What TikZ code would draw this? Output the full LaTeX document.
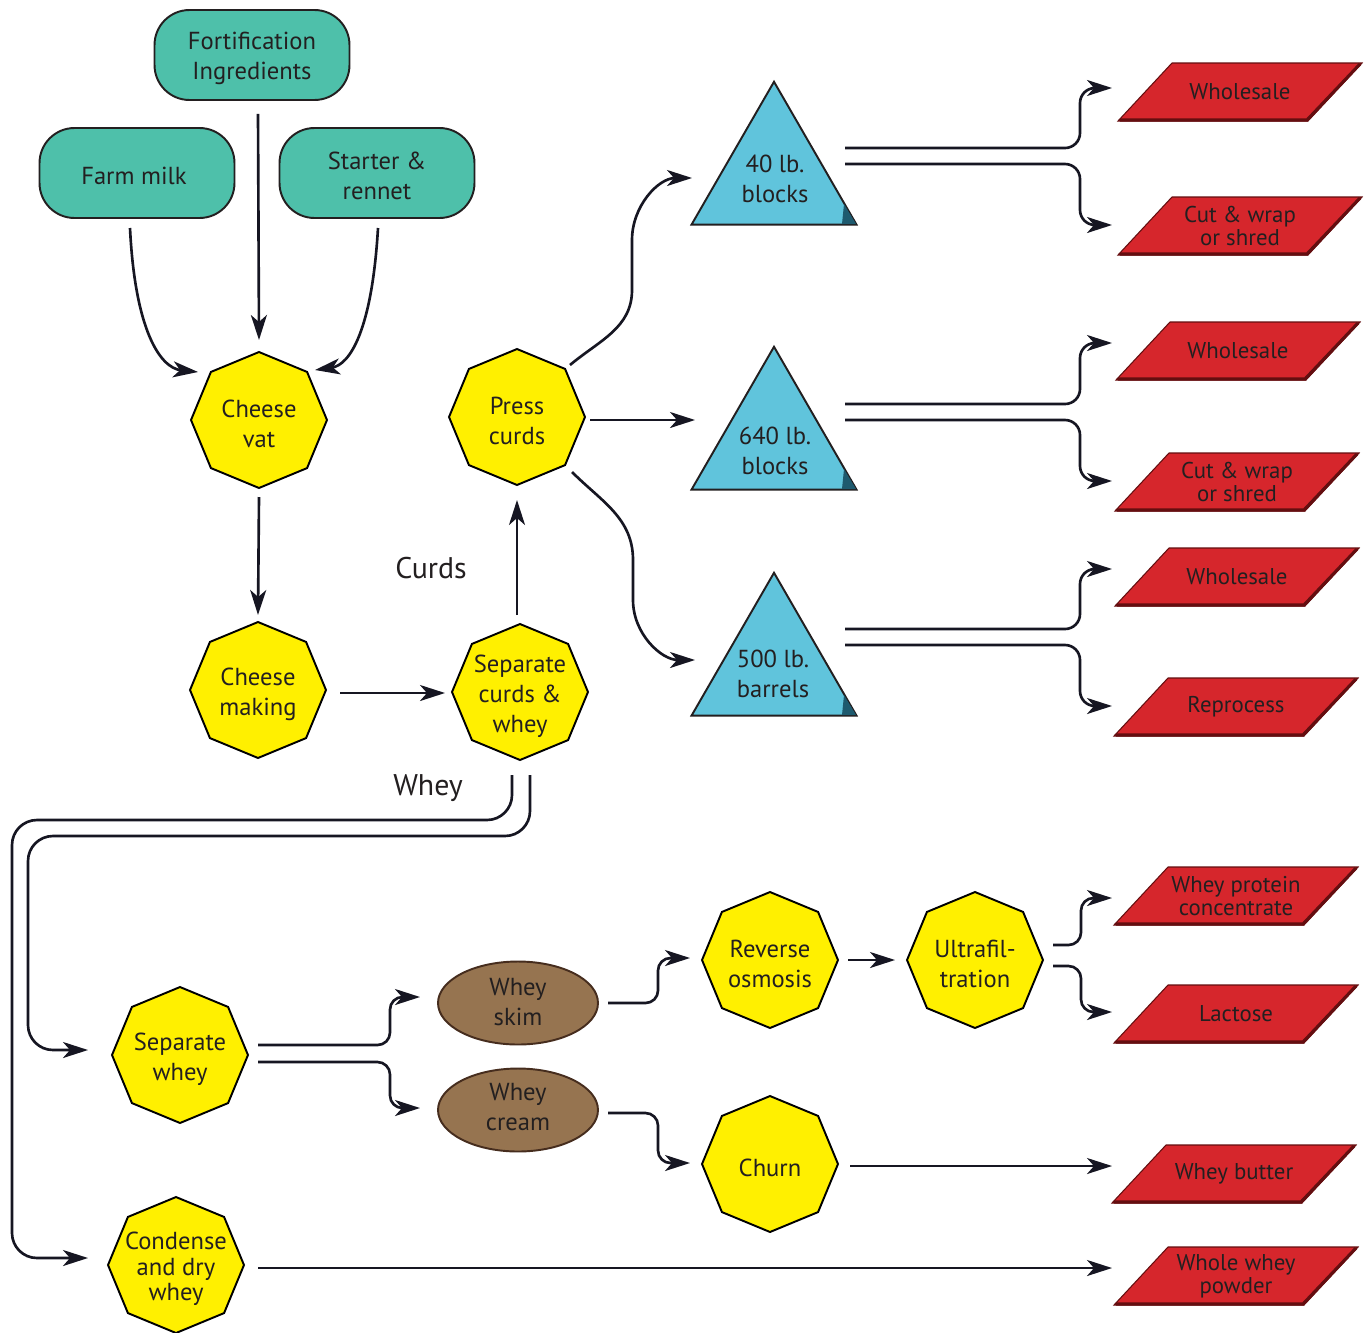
\documentclass[tikz,border=0pt]{standalone}
\usepackage{fontspec}
\setmainfont{PT Sans}
\usetikzlibrary{shapes.geometric,arrows.meta,calc}
\definecolor{tealbox}{RGB}{78,192,170}
\definecolor{octyel}{RGB}{255,240,0}
\definecolor{tricyan}{RGB}{96,196,220}
\definecolor{trishade}{RGB}{30,90,110}
\definecolor{parared}{RGB}{214,38,44}
\definecolor{paraedge}{RGB}{100,14,16}
\definecolor{ellbrown}{RGB}{150,116,80}
\definecolor{elledge}{RGB}{70,45,30}
\definecolor{linec}{RGB}{22,22,34}
\definecolor{textc}{RGB}{35,31,32}
\newcommand\redpara[4]{%
  \fill[parared] (#2-68,#3-29) -- (#2+122,#3-29) -- (#2+68,#3+29) -- (#2-122,#3+29) -- cycle;
  \draw[paraedge, line width=0.6pt] (#2-68,#3-29) -- (#2+122,#3-29) -- (#2+68,#3+29) -- (#2-122,#3+29) -- cycle;
  \draw[paraedge, line width=1.8pt] (#2-120,#3+28) -- (#2+67,#3+28) -- (#2+120,#3-28);
  \node[ptxt] (#1) at (#2,#3) {#4};}
\newcommand\octnode[4][]{%
  \node[octa] (#2) at (#3) {};
  \node[octtxt,#1] (#2txt) at (#2) {#4};}
\begin{document}
\begin{tikzpicture}[x=0.02cm,y=-0.02cm,
  rbox/.style={rectangle, rounded corners=0.7cm, minimum width=3.9cm, minimum height=1.8cm,
    fill=tealbox, draw=textc, line width=1.1pt, text=textc, align=center, font=\fontsize{14}{17}\selectfont},
  rtxt/.style={text=textc, align=center, font=\fontsize{14}{17}\selectfont, yshift=-0.06cm},
  octa/.style={regular polygon, regular polygon sides=8, shape border rotate=22.5, minimum size=2.72cm,
    inner sep=0pt, fill=octyel, draw=black, line width=1.1pt},
  octtxt/.style={inner sep=0pt, text=textc, align=center, font=\fontsize{14}{17}\selectfont, yshift=-0.08cm},
  tri/.style={regular polygon, regular polygon sides=3, minimum size=3.81cm, inner sep=0pt,
    fill=tricyan, draw=textc, line width=1.1pt},
  tritxt/.style={text=textc, align=center, font=\fontsize{14}{17}\selectfont},
  ptxt/.style={text=textc, align=center, font=\fontsize{13}{13}\selectfont},
  ell/.style={ellipse, minimum width=3.2cm, minimum height=1.66cm, inner sep=0pt, fill=ellbrown,
    draw=elledge, line width=1.1pt},
  elltxt/.style={text=textc, align=center, font=\fontsize{14}{17}\selectfont},
  lbl/.style={text=textc, font=\fontsize{17}{20}\selectfont},
  conn/.style={line width=1.5pt, draw=linec},
  arr/.style={conn, -{Stealth[length=0.5cm,width=0.32cm,inset=0.14cm]}}
]
\useasboundingbox (0,0) rectangle (1371,1332);
\fill[white] (0,0) rectangle (1371,1332);

% rounded boxes
\node[rbox] (fort) at (252,55) {};
\node[rtxt] (forttxt) at (fort) {Fortification\\Ingredients};
\node[rbox] (farm) at (137,173) {};
\node[rtxt] (farmtxt) at ([xshift=-0.06cm]farm) {Farm milk};
\node[rbox] (starter) at (377,173) {};
\node[rtxt] (startertxt) at (starter) {Starter \&\\rennet};

% octagons
\octnode{vat}{259,420}{Cheese\\vat}
\octnode{making}{258,690}{Cheese\\making}
\octnode{sep}{520,692}{Separate\\curds \&\\whey}
\octnode{press}{517,417}{Press\\curds}
\octnode{sepw}{180,1055}{Separate\\whey}
\octnode[font=\fontsize{14}{14.5}\selectfont]{cond}{176,1265}{Condense\\and dry\\whey}
\octnode{ro}{770,960}{Reverse\\osmosis}
\octnode{uf}{975,960}{Ultrafil-\\tration}
\octnode{churn}{770,1164}{Churn}

% triangles
\node[tri] (t40) at (774,177) {};
\node[tri] (t640) at (774,442) {};
\node[tri] (t500) at (774,668) {};
\foreach \t in {t40,t640,t500}{
  \fill[trishade] ($(\t)+(70,27)$) -- ($(\t)+(82,47)$) -- ($(\t)+(68,47)$) -- cycle;
}
\node[tritxt] (t40txt) at (775,179) {40 lb.\\blocks};
\node[tritxt] (t640txt) at (775,451) {640 lb.\\blocks};
\node[tritxt] (t500txt) at (773,674) {500 lb.\\barrels};

% ellipses
\node[ell] (skim) at (518,1003) {};
\node[elltxt] (skimtxt) at (518,1002) {Whey\\skim};
\node[ell] (cream) at (518,1110) {};
\node[elltxt] (creamtxt) at (518,1107) {Whey\\cream};

% parallelograms
\redpara{w1}{1240}{92}{Wholesale}
\redpara{c1}{1240}{226}{Cut \& wrap\\or shred}
\redpara{w2}{1238}{351}{Wholesale}
\redpara{c2}{1237}{482}{Cut \& wrap\\or shred}
\redpara{w3}{1237}{577}{Wholesale}
\redpara{rep}{1236}{707}{Reprocess}
\redpara{wpc}{1236}{896}{Whey protein\\concentrate}
\redpara{lac}{1236}{1014}{Lactose}
\redpara{but}{1234}{1174}{Whey butter}
\redpara{pow}{1236}{1276}{Whole whey\\powder}

% labels
\node[lbl] (curdslbl) at (431,568) {Curds};
\node[lbl] (wheylbl) at (428,788) {Whey};

% connectors top
\draw[arr] ($(fort.south)+(6,13)$) -- ($(vat)+(0,-80)$);
\draw[arr] ($(farm)+(-7,55)$) .. controls ($(farm)+(-2,157)$) and ($(farm)+(23,195)$) .. ($(vat)+(-61,-48)$);
\draw[arr] ($(starter)+(1,55)$) .. controls ($(starter)+(-5,157)$) and ($(starter)+(-27,192)$) .. ($(vat)+(56,-50)$);
\draw[arr] ($(vat)+(0,77)$) -- ($(making)+(0,-75)$);
\draw[arr] ($(making)+(82,3)$) -- ($(sep)+(-75,1)$);
\draw[arr] ($(sep)+(-3,-77)$) -- ($(press)+(0,83)$);

% press to triangles
\draw[arr] ($(press)+(53,-52)$) to[out=40,in=-90] ($(press)+(115,-127)$) -- ($(press)+(115,-177)$) to[out=90,in=180] ($(t40)+(-82,1)$);
\draw[arr] ($(press)+(73,3)$) -- ($(t640)+(-79,-22)$);
\draw[arr] ($(press)+(55,55)$) to[out=-45,in=90] ($(press)+(116,143)$) -- ($(press)+(116,183)$) to[out=-90,in=180] ($(t500)+(-79,-8)$);

% triangle brackets
\draw[arr, rounded corners=0.3cm] ($(t40)+(71,-29)$) -- ++(235,0) |- ($(w1)+(-128,-4)$);
\draw[arr, rounded corners=0.3cm] ($(t40)+(71,-13)$) -- ++(235,0) |- ($(c1)+(-128,-1)$);
\draw[arr, rounded corners=0.3cm] ($(t640)+(71,-38)$) -- ++(235,0) |- ($(w2)+(-126,-8)$);
\draw[arr, rounded corners=0.3cm] ($(t640)+(71,-22)$) -- ++(235,0) |- ($(c2)+(-125,-1)$);
\draw[arr, rounded corners=0.3cm] ($(t500)+(71,-39)$) -- ++(235,0) |- ($(w3)+(-125,-8)$);
\draw[arr, rounded corners=0.3cm] ($(t500)+(71,-23)$) -- ++(235,0) |- ($(rep)+(-124,-1)$);

% whey lines
\draw[arr, rounded corners=0.5cm] ($(sep)+(-8,83)$) -- ($(sep)+(-8,128)$) -- ($(cond)+(-164,-445)$) -- ($(cond)+(-164,-7)$) -- ($(cond)+(-88,-7)$);
\draw[arr, rounded corners=0.5cm] ($(sep)+(10,83)$) -- ($(sep)+(10,144)$) -- ($(sepw)+(-152,-219)$) -- ($(sepw)+(-152,-5)$) -- ($(sepw)+(-92,-5)$);

% separate whey brackets
\draw[arr, rounded corners=0.25cm] ($(sepw)+(78,-10)$) -- ++(132,0) |- ($(skim)+(-98,-6)$);
\draw[arr, rounded corners=0.25cm] ($(sepw)+(78,7)$) -- ++(132,0) |- ($(cream)+(-98,-2)$);
\draw[arr, rounded corners=0.25cm] ($(skim)+(90,0)$) -- ++(50,0) |- ($(ro)+(-80,-2)$);
\draw[arr, rounded corners=0.25cm] ($(cream)+(90,3)$) -- ++(50,0) |- ($(churn)+(-80,-1)$);
\draw[arr] ($(ro)+(78,0)$) -- ($(uf)+(-80,0)$);
\draw[arr, rounded corners=0.25cm] ($(uf)+(78,-15)$) -- ++(28,0) |- ($(wpc)+(-124,2)$);
\draw[arr, rounded corners=0.25cm] ($(uf)+(78,6)$) -- ++(28,0) |- ($(lac)+(-124,-2)$);
\draw[arr] ($(churn)+(80,2)$) -- ($(but)+(-122,-8)$);
\draw[arr] ($(cond)+(82,3)$) -- ($(pow)+(-124,-8)$);
\end{tikzpicture}
\end{document}
